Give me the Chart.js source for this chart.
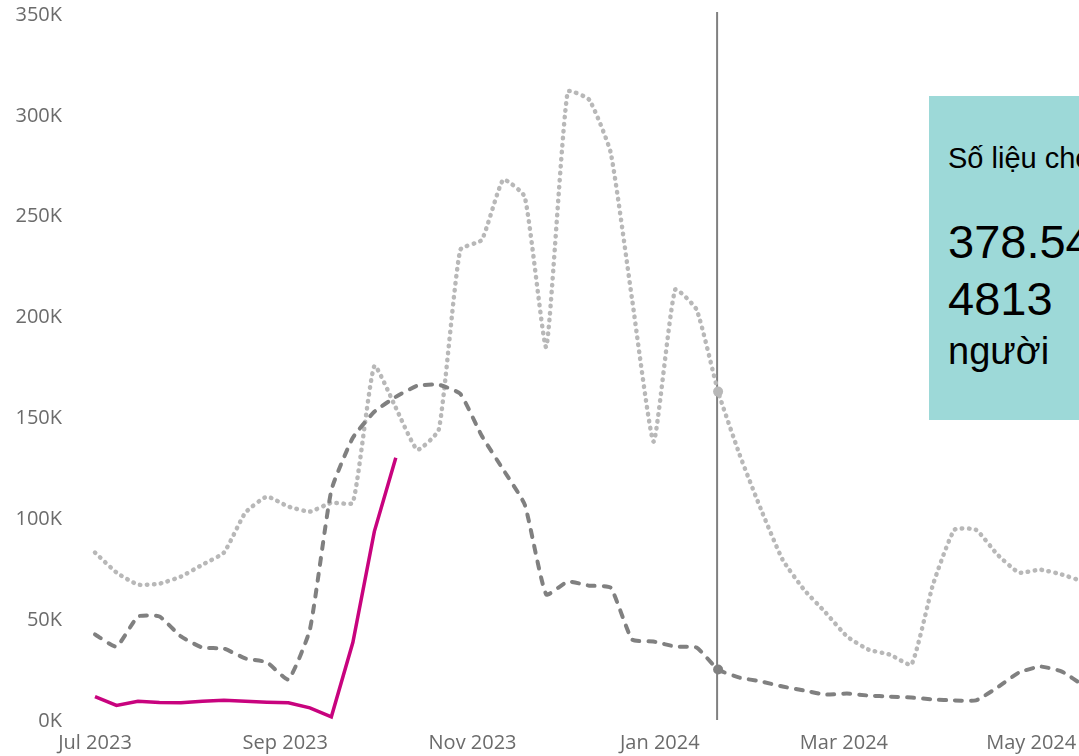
<!DOCTYPE html>
<html>
<head>
<meta charset="utf-8">
<script src="https://cdn.jsdelivr.net/npm/chart.js@4.4.1/dist/chart.umd.min.js"></script>
<style>
  html, body { margin: 0; padding: 0; background: #fff; overflow: hidden; }
  #wrap { position: relative; width: 1079px; height: 756px; overflow: hidden; }
  #grafico { position: absolute; left: 0; top: 0; }
  #box {
    position: absolute; left: 929px; top: 96px; width: 260px; height: 324px;
    background: #9dd9d8; font-family: "Liberation Sans", Arial, sans-serif; color: #000;
    white-space: nowrap;
  }
  #box div { position: absolute; left: 19px; }
</style>
</head>
<body>
<div id="wrap">
  <canvas id="grafico" width="1200" height="756"></canvas>
  <div id="box">
    <div style="top:46px;font-size:29px;">Số liệu cho</div>
    <div style="top:117px;font-size:47px;line-height:57px;">378.54<br>4813</div>
    <div style="top:234px;font-size:38px;">người</div>
  </div>
</div>
<script>
// semanas (inicio de cada semana)
var semanas = ['2023-07-01', '2023-07-08', '2023-07-15', '2023-07-22', '2023-07-29', '2023-08-05',
  '2023-08-12', '2023-08-19', '2023-08-26', '2023-09-02', '2023-09-09', '2023-09-16', '2023-09-23',
  '2023-09-30', '2023-10-07', '2023-10-14', '2023-10-21', '2023-10-28', '2023-11-04', '2023-11-11',
  '2023-11-18', '2023-11-25', '2023-12-02', '2023-12-09', '2023-12-16', '2023-12-23', '2023-12-30',
  '2024-01-06', '2024-01-13', '2024-01-20', '2024-01-27', '2024-02-03', '2024-02-10', '2024-02-17',
  '2024-02-24', '2024-03-02', '2024-03-09', '2024-03-16', '2024-03-23', '2024-03-30', '2024-04-06',
  '2024-04-13', '2024-04-20', '2024-04-27', '2024-05-04', '2024-05-11', '2024-05-18'];

// serie atual (rosa)
var atual = [12100, 7700, 9800, 9200, 9000, 9800, 10300, 9800, 9300, 9000, 6500, 2100, 38900, 93900, 130500];

// serie tracejada escura
var anoAnterior = [42900, 36900, 51800, 51800, 41900, 36400, 35900, 31000, 29100, 20600, 45300, 114400,
  140400, 153300, 160700, 166200, 166700, 162200, 141400, 124600, 107300, 62700, 69100, 67100, 66100,
  40400, 39400, 36900, 36400, 25500, 21500, 19600, 17100, 15100, 13100, 13600, 12600, 12100, 11600,
  10700, 10200, 10200, 16600, 24000, 27000, 24500, 17600];

// serie pontilhada clara
var doisAnos = [83500, 73600, 67600, 68100, 71600, 77500, 83500, 103300, 111200, 106300, 103800, 108200,
  108200, 176000, 155300, 134500, 144400, 233600, 238500, 268300, 259900, 185500, 312000, 308000, 281800,
  208800, 138500, 213800, 203900, 163300, 132100, 104800, 80000, 65100, 53800, 41900, 35400, 32900,
  28000, 67600, 94800, 94800, 82500, 73600, 75000, 72600, 69100];

// eixo X
var ticksData = ['2023-07-01', '2023-09-01', '2023-11-01', '2024-01-01', '2024-03-01', '2024-05-01'];
var ticksTexto = ['Jul 2023', 'Sep 2023', 'Nov 2023', 'Jan 2024', 'Mar 2024', 'May 2024'];
var marcaSemana = '2024-01-20';

var inicio = Date.parse('2023-07-01');
function dia(d) {
  return (Date.parse(d) - inicio) / 86400000;
}
function pontos(vet) {
  var r = [];
  for (var i = 0; i < vet.length; i++) {
    r.push({ x: dia(semanas[i]), y: vet[i] });
  }
  return r;
}
function raios(vet) {
  var r = [];
  for (var i = 0; i < vet.length; i++) {
    r.push(semanas[i] == marcaSemana ? 5 : 0);
  }
  return r;
}

// linha vertical na semana marcada
var linhaVertical = {
  id: 'linhaVertical',
  beforeDatasetsDraw: function (chart) {
    var ctx = chart.ctx;
    var x = chart.scales.x.getPixelForValue(dia(marcaSemana)) - 1;
    ctx.save();
    ctx.strokeStyle = '#808080';
    ctx.lineWidth = 2;
    ctx.beginPath();
    ctx.moveTo(x, chart.chartArea.top - 3);
    ctx.lineTo(x, chart.chartArea.bottom - 1);
    ctx.stroke();
    ctx.restore();
  }
};

Chart.defaults.font.family = "'Open Sans', sans-serif";
Chart.defaults.font.size = 20;
Chart.defaults.color = '#6b6b6b';

var ctx = document.getElementById('grafico').getContext('2d');
var chart = new Chart(ctx, {
  type: 'line',
  data: {
    datasets: [
      {
        label: 'Atual',
        data: pontos(atual),
        borderColor: '#c8037e',
        backgroundColor: '#c8037e',
        borderWidth: 3.5,
        pointRadius: 0,
        tension: 0
      },
      {
        label: 'Ano anterior',
        data: pontos(anoAnterior),
        borderColor: '#808080',
        backgroundColor: '#808080',
        borderWidth: 4,
        borderDash: [7, 9],
        borderCapStyle: 'round',
        pointRadius: raios(anoAnterior),
        pointBorderWidth: 0,
        tension: 0.15
      },
      {
        label: 'Dois anos antes',
        data: pontos(doisAnos),
        borderColor: '#b8b8b8',
        backgroundColor: '#b8b8b8',
        borderWidth: 4.5,
        borderDash: [0.5, 6.5],
        borderCapStyle: 'round',
        pointRadius: raios(doisAnos),
        pointBorderWidth: 0,
        tension: 0.15
      }
    ]
  },
  options: {
    responsive: false,
    animation: false,
    events: [],
    layout: { padding: 0 },
    plugins: {
      legend: { display: false },
      tooltip: { enabled: false }
    },
    scales: {
      x: {
        type: 'linear',
        min: -9.775,
        max: 360,
        grid: { display: false, drawTicks: false },
        border: { display: false },
        afterBuildTicks: function (scale) {
          scale.ticks = ticksData.map(function (d) { return { value: dia(d) }; });
        },
        afterFit: function (scale) { scale.height = 35; },
        ticks: {
          padding: 10,
          maxRotation: 0,
          autoSkip: false,
          callback: function (v, i) { return ticksTexto[i]; }
        }
      },
      y: {
        min: 0,
        max: 350000,
        grid: { display: false, drawTicks: false },
        border: { display: false },
        afterFit: function (scale) { scale.width = 65; },
        ticks: {
          stepSize: 50000,
          padding: 3,
          callback: function (v) { return (v / 1000) + 'K'; }
        }
      }
    }
  },
  plugins: [linhaVertical]
});
</script>
</body>
</html>
